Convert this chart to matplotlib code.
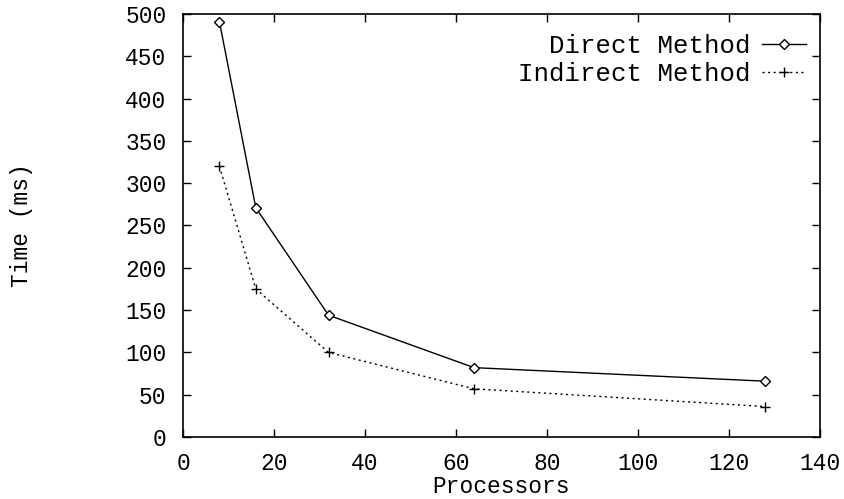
import matplotlib
matplotlib.use("Agg")
import matplotlib.pyplot as plt

# data
processors = [8, 16, 32, 64, 128]
direct_ms = [491, 271, 144, 82, 66]
indirect_ms = [320, 175, 100, 57, 36]

plt.rcParams['font.family'] = ['Liberation Mono', 'DejaVu Sans Mono']
plt.rcParams['font.size'] = 16.5

fig = plt.figure(figsize=(8.45, 4.99), dpi=100)
ax = fig.add_axes([0.2166, 0.1242, 0.7534, 0.8478])

ax.plot(processors, direct_ms, color='black', lw=1, marker='D', ms=5,
        mfc='white', mec='black', mew=1, label='Direct Method')
ax.plot(processors, indirect_ms, color='black', lw=1, ls=(0, (1.5, 2.5)),
        marker='+', ms=7, mew=1, label='Indirect Method')

ax.set_xlim(0, 140)
ax.set_ylim(0, 500)
ax.set_xticks(range(0, 141, 20))
ax.set_yticks(range(0, 501, 50))
ax.tick_params(direction='in', top=True, right=True, length=6, width=1)
ax.tick_params(axis='x', pad=11)
ax.tick_params(axis='y', pad=12)
for s in ax.spines.values():
    s.set_linewidth(1.2)

ax.set_xlabel('Processors', labelpad=0)
ax.set_ylabel('Time (ms)', labelpad=66)

leg = ax.legend(loc='upper right', bbox_to_anchor=(1.0, 0.985),
                frameon=False, markerfirst=False,
                handlelength=1.7, handletextpad=0.45, borderaxespad=0.2,
                borderpad=0.35, labelspacing=0.12, fontsize=18.5)

fig.savefig('out.png', dpi=100)
